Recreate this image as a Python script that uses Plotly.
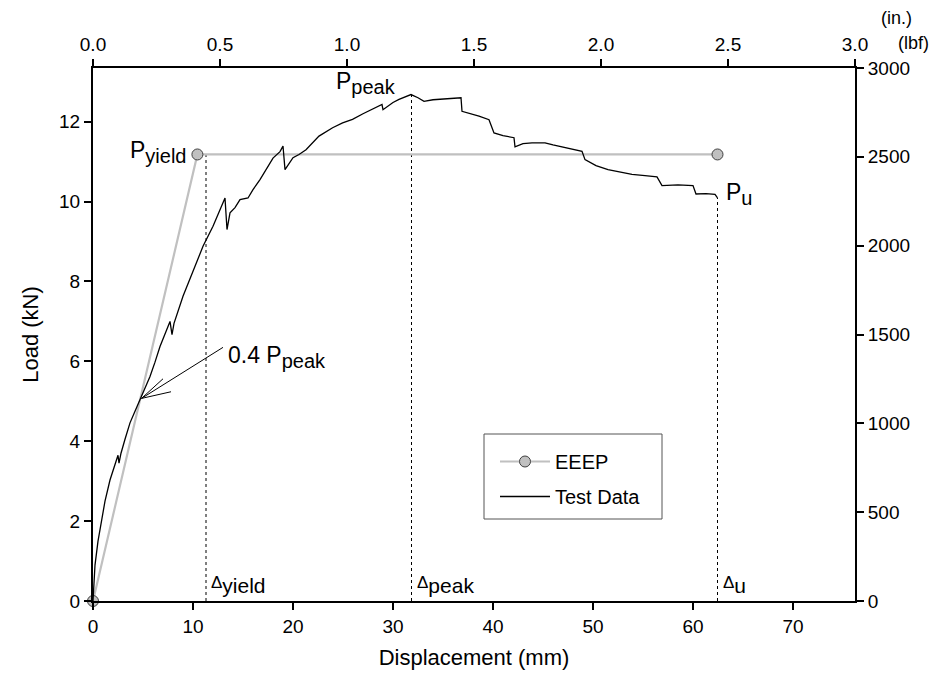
import plotly.graph_objects as go

# ---------------- data ----------------
test_x_mm = [0, 0.2, 0.5, 0.87, 1.2, 1.7, 2.2, 2.5, 2.6, 2.8, 3.2, 3.7, 4.2, 4.7, 5.2, 5.7,
             6.2, 6.7, 7.3, 7.7, 7.9, 8.1, 9.0, 10.0, 11.0, 12.0, 12.6, 13.2, 13.4, 13.7,
             14.2, 14.7, 15.5, 16.0, 16.7, 17.3, 18.0, 18.7, 19.0, 19.2, 20.0, 20.6, 21.3,
             22.6, 23.96, 24.96, 25.95, 27.0, 28.0, 28.9, 29.0, 30.0, 30.6, 31.8, 32.5,
             33.1, 34.0, 34.6, 35.5, 36.8, 36.9, 37.8, 38.6, 39.6, 40.1, 41.0, 42.1, 42.2,
             43.0, 43.9, 45.2, 46.0, 46.9, 48.0, 48.9, 49.2, 50.3, 51.5, 52.7, 53.9, 55.2,
             56.4, 56.9, 58.5, 60.0, 60.3, 61.3, 62.2, 62.45]
test_y_kN = [0, 0.9, 1.5, 2.03, 2.5, 3.03, 3.4, 3.65, 3.45, 3.7, 4.05, 4.46, 4.75, 5.04, 5.3,
             5.62, 5.98, 6.37, 6.75, 7.0, 6.67, 6.95, 7.63, 8.28, 8.88, 9.38, 9.72, 10.09,
             9.3, 9.72, 9.85, 10.05, 10.09, 10.3, 10.55, 10.8, 11.09, 11.25, 11.39, 10.8,
             11.1, 11.18, 11.3, 11.64, 11.85, 11.97, 12.06, 12.2, 12.32, 12.43, 12.3, 12.48,
             12.56, 12.68, 12.6, 12.51, 12.55, 12.56, 12.58, 12.6, 12.26, 12.2, 12.14, 12.05,
             11.72, 11.65, 11.6, 11.37, 11.45, 11.47, 11.47, 11.42, 11.37, 11.32, 11.26,
             11.05, 10.9, 10.8, 10.74, 10.68, 10.65, 10.62, 10.4, 10.42, 10.4, 10.19, 10.2,
             10.18, 10.09]

eeep_x_mm = [0, 10.44, 62.45]
eeep_y_kN = [0, 11.18, 11.18]

delta_yield = 11.3
delta_peak = 31.85
delta_u = 62.45
p_yield = 11.18
p_peak = 12.68
p_u = 10.09
p04_x = 4.85

x_ticks_mm = [0, 10, 20, 30, 40, 50, 60, 70]
x_ticks_in = [0.0, 0.5, 1.0, 1.5, 2.0, 2.5, 3.0]
y_ticks_kN = [0, 2, 4, 6, 8, 10, 12]
y_ticks_lbf = [0, 500, 1000, 1500, 2000, 2500, 3000]

MM_PER_IN = 25.4
KN_PER_LBF = 0.0044482216
x_max_in = 3.0
y_max_lbf = 3000

FONT = "Liberation Sans, Arial, sans-serif"

# plot-area pixel geometry (for paper-coordinate placement)
PX_L, PX_R, PX_T, PX_B = 93, 855, 68, 601
def paper_x(px):
    return (px - PX_L) / (PX_R - PX_L)
def paper_y(py):
    return (PX_B - py) / (PX_B - PX_T)

fig = go.Figure()

# dotted guide lines
for dx, dy in [(delta_yield, p_yield), (delta_peak, p_peak), (delta_u, p_u)]:
    fig.add_trace(go.Scatter(x=[dx, dx], y=[0, dy], mode="lines",
                             line=dict(color="black", width=1, dash="dot"),
                             showlegend=False, hoverinfo="skip"))

fig.add_trace(go.Scatter(x=eeep_x_mm, y=eeep_y_kN, mode="lines+markers", name="EEEP",
                         legendgroup="a",
                         line=dict(color="#c0c0c0", width=2.2),
                         marker=dict(size=11, color="#c0c0c0", line=dict(color="#404040", width=1)),
                         cliponaxis=False))
fig.add_trace(go.Scatter(x=test_x_mm, y=test_y_kN, mode="lines", name="Test Data",
                         legendgroup="b",
                         line=dict(color="black", width=1.3)))

# helper trace for the secondary (imperial) axes
fig.add_trace(go.Scatter(x=[v / MM_PER_IN for v in test_x_mm],
                         y=[v / KN_PER_LBF for v in test_y_kN],
                         xaxis="x2", yaxis="y2", mode="lines",
                         line=dict(color="rgba(0,0,0,0)"), showlegend=False, hoverinfo="skip"))

tickfont = dict(family=FONT, size=19, color="black")
axcommon = dict(showgrid=False, zeroline=False, showline=True, linecolor="black", linewidth=2,
                ticks="outside", ticklen=7, tickwidth=1.5, tickcolor="black", tickfont=tickfont)

fig.update_layout(
    width=935, height=687,
    margin=dict(l=PX_L, r=935 - PX_R, t=PX_T, b=687 - PX_B),
    paper_bgcolor="white", plot_bgcolor="white",
    font=dict(family=FONT, color="black"),
    xaxis=dict(range=[0, x_max_in * MM_PER_IN], tickvals=x_ticks_mm,
               title=dict(text="Displacement (mm)", font=dict(family=FONT, size=22), standoff=14),
               **axcommon),
    yaxis=dict(range=[0, y_max_lbf * KN_PER_LBF], tickvals=y_ticks_kN,
               title=dict(text="Load (kN)", font=dict(family=FONT, size=22), standoff=14),
               **axcommon),
    xaxis2=dict(range=[0, x_max_in], tickvals=x_ticks_in, tickformat=".1f",
                overlaying="x", side="top", anchor="y2", **axcommon),
    yaxis2=dict(range=[0, y_max_lbf], tickvals=y_ticks_lbf,
                overlaying="y", side="right", anchor="x2", **axcommon),
    legend=dict(x=paper_x(495), y=paper_y(442), xanchor="left", yanchor="top",
                borderwidth=0, bgcolor="rgba(0,0,0,0)",
                font=dict(family=FONT, size=20), itemwidth=50,
                tracegroupgap=6),
    showlegend=True,
)

# legend frame
fig.add_shape(type="rect", xref="paper", yref="paper",
              x0=paper_x(484), x1=paper_x(662), y0=paper_y(519), y1=paper_y(434),
              line=dict(color="#555555", width=1), fillcolor="rgba(0,0,0,0)", layer="below")

annfont = dict(family=FONT, size=23, color="black")
sub = lambda s: "<sub><span style='font-size:20px'>%s</span></sub>" % s
dsub = lambda s: "<span style='font-size:17px'>Δ</span><sub><span style='font-size:21px'>%s</span></sub>" % s

anns = [
    dict(x=eeep_x_mm[1] - 0.9, y=p_yield + 0.05, text="P" + sub("yield"), xanchor="right", yanchor="middle"),
    dict(x=delta_peak - 1.4, y=p_peak + 0.3, text="P" + sub("peak"), xanchor="right", yanchor="middle"),
    dict(x=delta_u + 0.6, y=p_u + 0.1, text="P" + sub("u"), xanchor="left", yanchor="middle"),
    dict(x=p04_x + 8.4, y=6.1, text="0.4 P" + sub("peak"), xanchor="left", yanchor="middle"),
    dict(x=delta_yield + 0.3, y=0.05, text=dsub("yield"), xanchor="left", yanchor="bottom"),
    dict(x=delta_peak + 0.3, y=0.05, text=dsub("peak"), xanchor="left", yanchor="bottom"),
    dict(x=delta_u + 0.3, y=0.05, text=dsub("u"), xanchor="left", yanchor="bottom"),
]
for a in anns:
    fig.add_annotation(xref="x", yref="y", showarrow=False, font=annfont, **a)

# arrow to 0.4 Ppeak point (line + open barbs)
for ax, ay in [(83, -52), (23, -21), (31, -7)]:
    fig.add_annotation(xref="x", yref="y", x=p04_x, y=0.4 * p_peak, text="", showarrow=True,
                       ax=ax, ay=ay, arrowhead=0, arrowwidth=1, arrowcolor="black",
                       standoff=0, startstandoff=0)

# unit labels
fig.add_annotation(xref="paper", yref="paper", x=paper_x(896), y=paper_y(18), text="(in.)",
                   showarrow=False, font=dict(family=FONT, size=18), xanchor="center", yanchor="middle")
fig.add_annotation(xref="paper", yref="paper", x=paper_x(913), y=paper_y(43), text="(lbf)",
                   showarrow=False, font=dict(family=FONT, size=18), xanchor="center", yanchor="middle")

fig.write_html("out.html")
